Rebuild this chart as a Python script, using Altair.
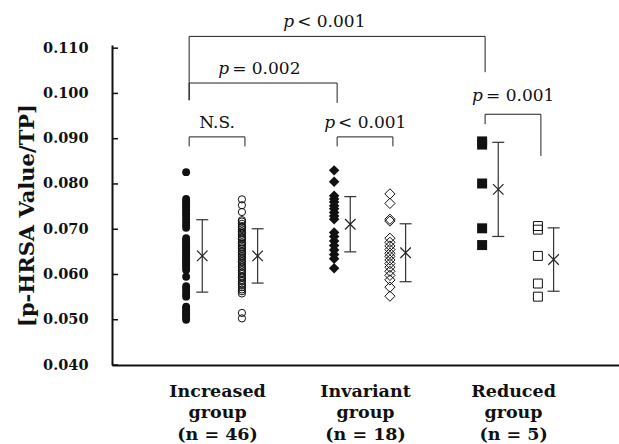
import json
import altair as alt
import pandas as pd

# ---------------- data ----------------
group_names = ["Increased", "Invariant", "Reduced"]
group_label_lines = [
    ["Increased", "group", "(n = 46)"],
    ["Invariant", "group", "(n = 18)"],
    ["Reduced", "group", "(n = 5)"],
]

inc_filled = [0.0826,
              0.0767, 0.0762, 0.0757, 0.0752, 0.0748, 0.0743, 0.0738, 0.0733, 0.0727, 0.0721, 0.0715, 0.0709, 0.0703,
              0.0680, 0.0676, 0.0672, 0.0668, 0.0664, 0.0660, 0.0656, 0.0652, 0.0648, 0.0644, 0.0640, 0.0636,
              0.0632, 0.0628, 0.0624, 0.0620, 0.0615, 0.0610,
              0.0595,
              0.0574, 0.0568, 0.0562, 0.0556, 0.0551,
              0.0529, 0.0525, 0.0520, 0.0516, 0.0512, 0.0508, 0.0504, 0.0500]
inc_open = [0.0766, 0.0753, 0.0738,
            0.0720, 0.0717, 0.0712, 0.0707, 0.0704, 0.0700, 0.0695, 0.0692, 0.0688, 0.0683,
            0.0680, 0.0677, 0.0671, 0.0668, 0.0664, 0.0660, 0.0657, 0.0652, 0.0649, 0.0645,
            0.0641, 0.0638, 0.0633, 0.0629, 0.0626, 0.0621, 0.0617, 0.0612, 0.0609, 0.0604,
            0.0601, 0.0596, 0.0593, 0.0588, 0.0585, 0.0580, 0.0577, 0.0572, 0.0567, 0.0563,
            0.0558,
            0.0515, 0.0503]
inv_filled = [0.0830, 0.0805, 0.0774, 0.0767, 0.0760, 0.0752, 0.0745, 0.0737, 0.0729, 0.0722,
              0.0693, 0.0684, 0.0674, 0.0664, 0.0654, 0.0644, 0.0635, 0.0614]
inv_open = [0.0778, 0.0757, 0.0722, 0.0718,
            0.0680, 0.0671, 0.0663, 0.0655, 0.0647, 0.0640, 0.0632, 0.0624, 0.0616, 0.0607,
            0.0598, 0.0588, 0.0572, 0.0552]
red_filled = [0.0894, 0.0887, 0.0801, 0.0702, 0.0665]
red_open = [0.0707, 0.0699, 0.0641, 0.0580, 0.0551]

mean_filled = [0.0641, 0.0711, 0.0788]
sd_filled = [0.0080, 0.0061, 0.0104]
mean_open = [0.0641, 0.0648, 0.0633]
sd_open = [0.0060, 0.0064, 0.0070]

y_ticks = [0.040, 0.050, 0.060, 0.070, 0.080, 0.090, 0.100, 0.110]

# comparisons: (group a, kind a, group b, kind b)
cmp_pairs = [(0, "f", 2, "f"), (0, "f", 1, "f"), (0, "f", 0, "o"), (1, "f", 1, "o"), (2, "f", 2, "o")]
cmp_top = [0.1126, 0.1023, 0.0904, 0.0904, 0.0954]
cmp_leg_a = [0.0985, 0.0985, 0.0883, 0.0883, 0.0932]
cmp_leg_b = [0.1047, 0.0979, 0.0883, 0.0883, 0.0862]
cmp_p = ["p", "p", "", "p", "p"]
cmp_text = ["< 0.001", "= 0.002", "N.S.", "< 0.001", "= 0.001"]
cmp_text_y = [0.1147, 0.1043, 0.0923, 0.0924, 0.0983]

# ---------------- layout (not data) ----------------
X_LO, X_HI = 0.29, 3.716
PX = 1.0 / 148.0
OFF = {"f": -0.209, "o": 0.168}      # column offsets of points
MOFF = {"f": -0.100, "o": 0.274}     # column offsets of mean +/- SD
BR = 3 * PX                          # bracket legs slightly right of columns
LABEL_SHIFT_PX = [-43, -34, 0, -30, -30]
FONT = "DejaVu Serif"
INK = "#111111"
ANN_SIZE = 17
SHAPES = ["circle", "diamond", "square"]
SIZE_FILLED = [62, 110, 100]
SIZE_OPEN = [52, 105, 80]

series = {(0, "f"): inc_filled, (0, "o"): inc_open,
          (1, "f"): inv_filled, (1, "o"): inv_open,
          (2, "f"): red_filled, (2, "o"): red_open}

rows = []
for (g, k), vals in series.items():
    for v in vals:
        rows.append({"x": g + 1 + OFF[k], "value": v, "grp": group_names[g], "kind": k})
pts = pd.DataFrame(rows)

err_rows = []
for g in range(3):
    for k, m, s in (("f", mean_filled[g], sd_filled[g]), ("o", mean_open[g], sd_open[g])):
        x = g + 1 + MOFF[k]
        err_rows.append({"x": x, "xl": x - 6 * PX, "xr": x + 6 * PX,
                         "mean": m, "lo": m - s, "hi": m + s})
err = pd.DataFrame(err_rows)

tick_df = pd.DataFrame({"y": y_ticks, "x": [X_LO] * len(y_ticks),
                        "x2": [X_LO + 6 * PX] * len(y_ticks)})

seg_rows, lab_rows = [], []
for i, (ga, ka, gb, kb) in enumerate(cmp_pairs):
    xa = ga + 1 + OFF[ka] + BR
    xb = gb + 1 + OFF[kb] + BR
    top = cmp_top[i]
    seg_rows.append({"x": xa, "x2": xb, "y": top, "y2": top})
    seg_rows.append({"x": xa, "x2": xa, "y": top, "y2": cmp_leg_a[i]})
    seg_rows.append({"x": xb, "x2": xb, "y": top, "y2": cmp_leg_b[i]})
    mid = (xa + xb) / 2 + LABEL_SHIFT_PX[i] * PX
    lab_rows.append({"x": mid, "y": cmp_text_y[i], "p": cmp_p[i], "rest": cmp_text[i]})
segs = pd.DataFrame(seg_rows)
labs = pd.DataFrame(lab_rows)
labs_p = labs[labs["p"] != ""]
labs_ns = labs[labs["p"] == ""]

label_expr = " : ".join(
    f"datum.value == {i + 1} ? {json.dumps(lines)}" for i, lines in enumerate(group_label_lines[:-1])
) + " : " + json.dumps(group_label_lines[-1])

xscale = alt.Scale(domain=[X_LO, X_HI], nice=False, zero=False)
yscale = alt.Scale(domain=[0.040, 0.1107], nice=False, zero=False)

x_axis = alt.Axis(values=[1, 2, 3], labelExpr=label_expr, ticks=False, grid=False,
                  domainColor=INK, domainWidth=2, labelFont=FONT, labelFontWeight="bold",
                  labelFontSize=17.5, labelColor=INK, labelLineHeight=21.5, labelPadding=17,
                  labelFlush=False, labelOverlap=False, labelBound=False, title=None)
y_axis = alt.Axis(values=y_ticks, format=".3f", ticks=False, grid=False,
                  domainColor=INK, domainWidth=2, labelFont=FONT, labelFontWeight="bold",
                  labelFontSize=14.5, labelColor=INK, labelPadding=24,
                  title="[p-HRSA Value/TP]", titleFont=FONT, titleFontWeight="bold",
                  titleFontSize=21, titleColor=INK, titleX=-85, titleY=170,
                  titleAlign="center", titleBaseline="middle")

layers = []
for g in range(3):
    for k in ("f", "o"):
        sub = pts[(pts["grp"] == group_names[g]) & (pts["kind"] == k)]
        if k == "f":
            mk = alt.Chart(sub).mark_point(filled=True, opacity=1, color=INK, strokeWidth=0,
                                           shape=SHAPES[g], size=SIZE_FILLED[g])
        else:
            mk = alt.Chart(sub).mark_point(filled=False, opacity=1, color=INK, strokeWidth=1,
                                           shape=SHAPES[g], size=SIZE_OPEN[g])
        if not layers:
            enc = mk.encode(x=alt.X("x:Q", scale=xscale, axis=x_axis),
                            y=alt.Y("value:Q", scale=yscale, axis=y_axis))
        else:
            enc = mk.encode(x=alt.X("x:Q", scale=xscale), y=alt.Y("value:Q", scale=yscale))
        layers.append(enc)

err_v = alt.Chart(err).mark_rule(color="#333333", strokeWidth=1.2).encode(
    x="x:Q", y="lo:Q", y2="hi:Q")
err_hi = alt.Chart(err).mark_rule(color="#333333", strokeWidth=1.2).encode(
    x="xl:Q", x2="xr:Q", y="hi:Q")
err_lo = alt.Chart(err).mark_rule(color="#333333", strokeWidth=1.2).encode(
    x="xl:Q", x2="xr:Q", y="lo:Q")
mean_mark = alt.Chart(err).mark_point(
    shape="M-1,-1L1,1M-1,1L1,-1", size=110, filled=False, opacity=1,
    color="#222222", strokeWidth=1.2
).encode(x="x:Q", y="mean:Q")

yticks = alt.Chart(tick_df).mark_rule(color=INK, strokeWidth=1.5).encode(
    x="x:Q", x2="x2:Q", y="y:Q")

brackets = alt.Chart(segs).mark_rule(color="#222222", strokeWidth=1).encode(
    x="x:Q", x2="x2:Q", y="y:Q", y2="y2:Q")

p_text = alt.Chart(labs_p).mark_text(
    align="right", baseline="alphabetic", font=FONT, fontStyle="italic",
    fontSize=ANN_SIZE, color=INK
).encode(x="x:Q", y="y:Q", text="p:N")
rest_text = alt.Chart(labs_p).mark_text(
    align="left", baseline="alphabetic", font=FONT, fontSize=ANN_SIZE, color=INK, dx=3
).encode(x="x:Q", y="y:Q", text="rest:N")
ns_text = alt.Chart(labs_ns).mark_text(
    align="center", baseline="alphabetic", font=FONT, fontSize=ANN_SIZE, color=INK
).encode(x="x:Q", y="y:Q", text="rest:N")

chart = alt.layer(
    *layers, err_v, err_hi, err_lo, mean_mark, yticks, brackets,
    p_text, rest_text, ns_text
).properties(
    width=507, height=320,
    padding={"left": 112, "top": 45, "right": 0, "bottom": 79},
    autosize=alt.AutoSizeParams(type="none"),
    background="white",
).configure_view(stroke=None)

chart.save("out.html", embed_options={"renderer": "svg", "actions": False})
